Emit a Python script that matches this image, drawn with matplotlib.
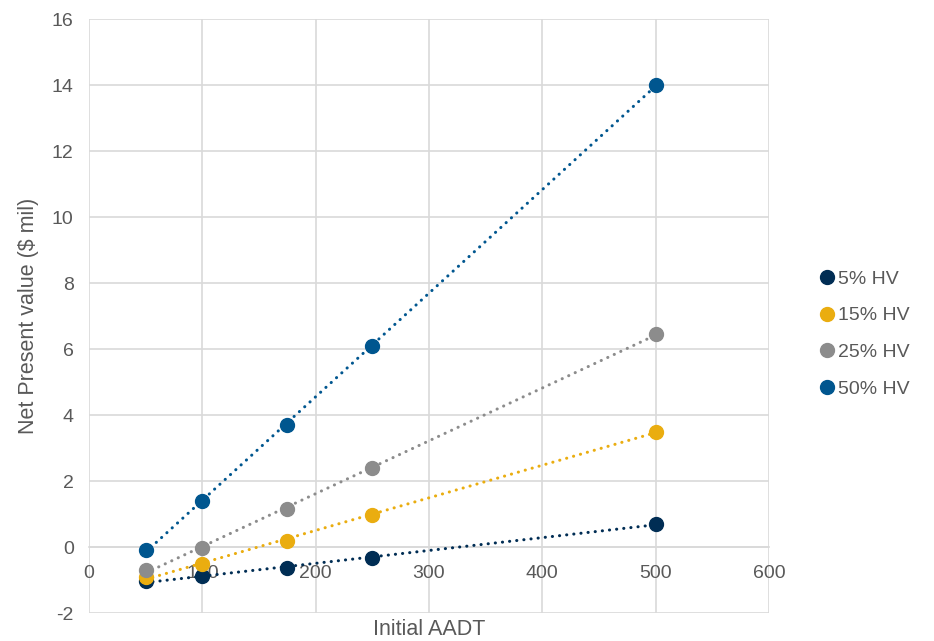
import numpy as np
import matplotlib
matplotlib.use("Agg")
import matplotlib.pyplot as plt
from matplotlib.lines import Line2D

plt.rcParams['font.family'] = ['Liberation Sans', 'DejaVu Sans']
plt.rcParams['axes.unicode_minus'] = False

aadt = [50, 100, 175, 250, 500]
hv5 = [-1.03, -0.88, -0.64, -0.33, 0.70]
hv15 = [-0.90, -0.50, 0.18, 0.97, 3.50]
hv25 = [-0.70, -0.02, 1.15, 2.40, 6.45]
hv50 = [-0.08, 1.40, 3.70, 6.10, 14.00]
labels = ["5% HV", "15% HV", "25% HV", "50% HV"]
colors = ["#002D54", "#EAAD10", "#8C8C8C", "#00568F"]

fig = plt.figure(figsize=(9.34, 6.41), dpi=100)
ax = fig.add_axes([89/934, (641-613)/641, (769-89)/934, (613-19)/641])

series = [hv5, hv15, hv25, hv50]
x = np.array(aadt)
handles = []
for vals, lab, c in zip(series, labels, colors):
    vals = np.array(vals)
    coef = np.polyfit(x, vals, 1)
    xx = np.array([x.min(), x.max()])
    ax.plot(xx, np.polyval(coef, xx), color=c, lw=2.2,
            linestyle=(0, (0.05, 2.3)), dash_capstyle='round', zorder=3)
    ax.plot(x, vals, 'o', color=c, ms=10, zorder=4)
    handles.append(Line2D([], [], marker='o', color=c, ls='none', ms=10, label=lab))

ax.set_xlim(0, 600)
ax.set_ylim(-2, 16)
ax.set_xticks(range(0, 601, 100))
ax.set_yticks(range(-2, 17, 2))
ax.grid(True, color='#D9D9D9', lw=1.2, zorder=0)
ax.set_axisbelow(True)
for s in ['top', 'right', 'left']:
    ax.spines[s].set_visible(False)
ax.spines['bottom'].set_position(('data', 0))
ax.spines['bottom'].set_color('#D9D9D9')
ax.spines['bottom'].set_linewidth(1.2)
ax.tick_params(axis='both', length=0, labelsize=14, colors='#595959')
ax.tick_params(axis='x', pad=13)
ax.tick_params(axis='y', pad=11)

ax.set_xlabel("Initial AADT", fontsize=15.5, color='#595959')
ax.xaxis.set_label_coords(0.5, -0.010)
ax.xaxis.label.set_va('top')
ax.set_ylabel("Net Present value ($ mil)", fontsize=15.5, color='#595959')
ax.yaxis.set_label_coords(-50/680, 0.5)

leg = fig.legend(handles=handles, loc='center left',
                 frameon=False, fontsize=14, handletextpad=0.05, handlelength=1.0,
                 labelspacing=0.98, labelcolor='#595959')
leg.set_bbox_to_anchor((800/934, (641-334)/641), transform=fig.transFigure)

fig.savefig("out.png", dpi=100)
